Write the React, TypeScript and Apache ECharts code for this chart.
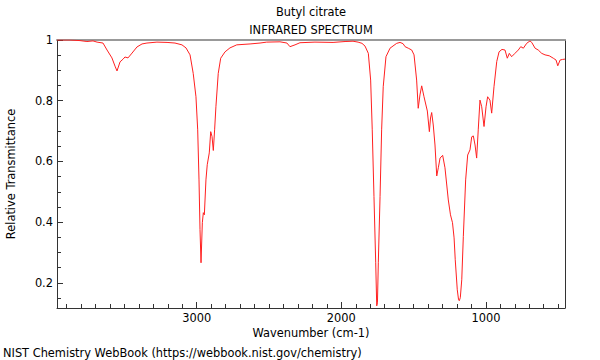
import React, { useEffect, useRef } from "react";
import * as echarts from "echarts";

const wavenumbers = [
  3966, 3876, 3807, 3759, 3717, 3689, 3648, 3620, 3586, 3565, 3551, 3530, 3509, 3496, 3475, 3447, 3413, 3378, 3344, 3275,
  3205, 3150, 3102, 3074, 3046, 3024, 3005, 2993, 2984, 2977, 2970, 2961, 2954, 2947, 2936, 2927, 2913, 2903, 2894, 2885,
  2876, 2867, 2851, 2834, 2804, 2770, 2723, 2631, 2562, 2516, 2424, 2376, 2355, 2320, 2286, 2182, 2057, 1974, 1919, 1884,
  1857, 1836, 1813, 1797, 1786, 1774, 1762, 1755, 1750, 1744, 1732, 1721, 1710, 1691, 1663, 1617, 1594, 1573, 1559, 1537,
  1513, 1497, 1479, 1468, 1456, 1444, 1428, 1405, 1391, 1383, 1375, 1364, 1352, 1340, 1329, 1317, 1299, 1283, 1260, 1245,
  1231, 1220, 1212, 1198, 1189, 1184, 1177, 1167, 1156, 1140, 1126, 1110, 1098, 1087, 1075, 1064, 1053, 1041, 1029, 1013,
  999, 988, 972, 960, 944, 925, 909, 889, 868, 852, 838, 822, 799, 776, 759, 741, 718, 695, 683, 660,
  638, 614, 591, 562, 534, 515, 503, 487, 470, 453,
];

const transmittance = [
  1.0, 1.0, 0.998, 0.995, 0.997, 0.993, 0.99, 0.967, 0.941, 0.914, 0.898, 0.928, 0.937, 0.944, 0.941, 0.957, 0.977, 0.987, 0.99, 0.993,
  0.992, 0.99, 0.984, 0.974, 0.951, 0.89, 0.813, 0.704, 0.539, 0.375, 0.266, 0.398, 0.431, 0.424, 0.539, 0.589, 0.628, 0.698, 0.682, 0.636,
  0.704, 0.78, 0.89, 0.94, 0.961, 0.974, 0.984, 0.987, 0.99, 0.993, 0.994, 0.99, 0.978, 0.984, 0.991, 0.993, 0.992, 0.995, 0.996, 0.993,
  0.989, 0.98, 0.956, 0.868, 0.704, 0.484, 0.266, 0.124, 0.134, 0.266, 0.484, 0.704, 0.846, 0.945, 0.973, 0.989, 0.992, 0.988, 0.978, 0.973,
  0.967, 0.951, 0.868, 0.775, 0.819, 0.849, 0.813, 0.766, 0.698, 0.743, 0.761, 0.72, 0.654, 0.552, 0.579, 0.611, 0.62, 0.579, 0.473, 0.424,
  0.398, 0.348, 0.276, 0.177, 0.144, 0.141, 0.151, 0.21, 0.353, 0.539, 0.621, 0.638, 0.681, 0.684, 0.654, 0.611, 0.704, 0.802, 0.78, 0.715,
  0.78, 0.813, 0.802, 0.759, 0.846, 0.929, 0.961, 0.969, 0.967, 0.94, 0.956, 0.945, 0.956, 0.967, 0.978, 0.973, 0.989, 0.997, 0.992, 0.973,
  0.967, 0.956, 0.951, 0.948, 0.94, 0.934, 0.915, 0.934, 0.936, 0.937,
];

const xLabelValues = [1000, 2000, 3000];
const xMinorTicks = [
  500, 600, 700, 800, 900, 1100, 1200, 1300, 1400, 1500, 1600, 1700, 1800, 1900, 2100, 2200, 2300, 2400, 2500, 2600,
  2700, 2800, 2900, 3100, 3200, 3300, 3400, 3500, 3600, 3700, 3800, 3900,
];
const yLabelValues = [0.2, 0.4, 0.6, 0.8, 1];
const yMinorTicks = [0.15, 0.25, 0.3, 0.35, 0.45, 0.5, 0.55, 0.65, 0.7, 0.75, 0.85, 0.9, 0.95];

const X_MIN = 453;
const X_MAX = 3966;
const Y_MIN = 0.117;
const Y_MAX = 1;

const FONT = "DejaVu Sans";
const FS = 11.4;

export default function App() {
  const ref = useRef<HTMLDivElement>(null);

  useEffect(() => {
    if (!ref.current) return;
    const chart = echarts.init(ref.current, null, { renderer: "svg" });
    const data = wavenumbers.map((w, i) => [w, transmittance[i]]);
    const dark = "#333";
    const baseX = {
      type: "value" as const,
      min: X_MIN,
      max: X_MAX,
      inverse: true,
      splitLine: { show: false },
    };
    const baseY = {
      type: "value" as const,
      min: Y_MIN,
      max: Y_MAX,
      splitLine: { show: false },
    };
    chart.setOption({
      animation: false,
      backgroundColor: "#fff",
      grid: { left: 57, right: 35, top: 40, bottom: 52, containLabel: false, outerBoundsMode: "none" },
      xAxis: [
        {
          ...baseX,
          position: "bottom",
          name: "Wavenumber (cm-1)",
          nameLocation: "middle",
          nameGap: 16,
          nameTextStyle: { fontFamily: FONT, fontSize: FS, color: "#000" },
          axisLine: { show: true, lineStyle: { color: dark, width: 1 } },
          axisTick: { show: true, inside: true, length: 6, customValues: xLabelValues, lineStyle: { color: dark } },
          axisLabel: {
            show: true,
            customValues: xLabelValues,
            formatter: (v: number) => String(v),
            fontFamily: FONT,
            fontSize: FS,
            color: "#000",
            margin: 4,
          },
        },
        {
          ...baseX,
          position: "bottom",
          axisLine: { show: false },
          axisTick: { show: true, inside: true, length: 4, customValues: xMinorTicks, lineStyle: { color: dark } },
          axisLabel: { show: false },
        },
        {
          ...baseX,
          position: "top",
          axisLine: { show: true, lineStyle: { color: "#999", width: 2 } },
          axisTick: { show: false },
          axisLabel: { show: false },
        },
      ],
      yAxis: [
        {
          ...baseY,
          position: "left",
          name: "Relative Transmittance",
          nameLocation: "middle",
          nameGap: 41,
          nameTextStyle: { fontFamily: FONT, fontSize: FS, color: "#000" },
          axisLine: { show: true, lineStyle: { color: dark, width: 1 } },
          axisTick: { show: true, inside: true, length: 6, customValues: yLabelValues, lineStyle: { color: dark } },
          axisLabel: {
            show: true,
            customValues: yLabelValues,
            formatter: (v: number) => String(v),
            fontFamily: FONT,
            fontSize: FS,
            color: "#000",
            margin: 4,
          },
        },
        {
          ...baseY,
          position: "left",
          axisLine: { show: false },
          axisTick: { show: true, inside: true, length: 4, customValues: yMinorTicks, lineStyle: { color: dark } },
          axisLabel: { show: false },
        },
        {
          ...baseY,
          position: "right",
          axisLine: { show: true, lineStyle: { color: dark, width: 1 } },
          axisTick: { show: false },
          axisLabel: { show: false },
        },
      ],
      graphic: [
        {
          type: "text",
          x: 311,
          y: 12,
          style: { text: "Butyl citrate", font: `${FS}px '${FONT}'`, fill: "#000", textAlign: "center", textVerticalAlign: "middle" },
        },
        {
          type: "text",
          x: 311,
          y: 30,
          style: { text: "INFRARED SPECTRUM", font: `${FS}px '${FONT}'`, fill: "#000", textAlign: "center", textVerticalAlign: "middle" },
        },
        {
          type: "text",
          x: 3,
          y: 353,
          style: {
            text: "NIST Chemistry WebBook (https://webbook.nist.gov/chemistry)",
            font: `${FS}px '${FONT}'`,
            fill: "#000",
            textAlign: "left",
            textVerticalAlign: "middle",
          },
        },
      ],
      series: [
        {
          type: "line",
          xAxisIndex: 0,
          yAxisIndex: 0,
          data,
          showSymbol: false,
          symbol: "none",
          lineStyle: { color: "#ff2020", width: 1 },
          clip: true,
        },
      ],
    });
    return () => chart.dispose();
  }, []);

  return <div ref={ref} style={{ width: 600, height: 360, position: "absolute", left: 0, top: 0 }} />;
}
